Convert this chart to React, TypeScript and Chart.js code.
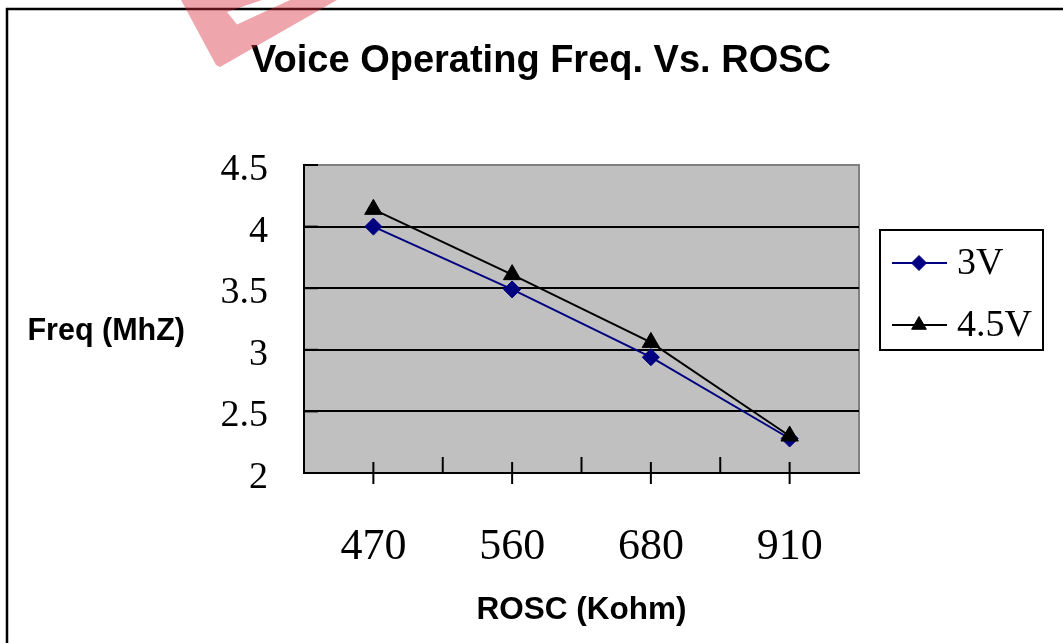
import React, { useEffect, useRef } from "react";
import { Chart, registerables } from "chart.js";

Chart.register(...registerables);

const categories = ["470", "560", "680", "910"];
const series3V = [4.0, 3.49, 2.94, 2.28];
const series45V = [4.14, 3.61, 3.06, 2.3];
const seriesLabels = ["3V", "4.5V"];
const yMin = 2;
const yMax = 4.5;
const yStep = 0.5;
const chartTitle = "Voice Operating Freq. Vs. ROSC";
const xTitle = "ROSC (Kohm)";
const yTitle = "Freq (MhZ)";

const W = 1063;
const H = 643;

function drawMarker(ctx: CanvasRenderingContext2D, style: string, x: number, y: number, r: number, color: string) {
  ctx.save();
  ctx.fillStyle = color;
  ctx.strokeStyle = color;
  ctx.lineWidth = 1;
  ctx.beginPath();
  if (style === "triangle") {
    ctx.moveTo(x, y - r);
    ctx.lineTo(x + 0.866 * r, y + 0.5 * r);
    ctx.lineTo(x - 0.866 * r, y + 0.5 * r);
  } else {
    ctx.moveTo(x, y - r);
    ctx.lineTo(x + r, y);
    ctx.lineTo(x, y + r);
    ctx.lineTo(x - r, y);
  }
  ctx.closePath();
  ctx.fill();
  ctx.stroke();
  ctx.restore();
}

const decorPlugin = {
  id: "decor",
  beforeDraw(chart: any) {
    const { ctx, chartArea: a } = chart;
    ctx.save();
    ctx.fillStyle = "#ffffff";
    ctx.fillRect(0, 0, chart.width, chart.height);
    // outer frame (left and top visible)
    ctx.strokeStyle = "#000";
    ctx.lineWidth = 2.5;
    ctx.beginPath();
    ctx.moveTo(7, chart.height + 5);
    ctx.lineTo(7, 9);
    ctx.lineTo(chart.width + 5, 9);
    ctx.stroke();
    // plot background
    ctx.fillStyle = "#C0C0C0";
    ctx.fillRect(a.left, a.top, a.right - a.left, a.bottom - a.top);
    ctx.strokeStyle = "#808080";
    ctx.lineWidth = 2;
    ctx.beginPath();
    ctx.moveTo(a.left, a.top);
    ctx.lineTo(a.right, a.top);
    ctx.lineTo(a.right, a.bottom);
    ctx.stroke();
    ctx.restore();
  },
  beforeDatasetsDraw(chart: any) {
    const { ctx, chartArea: a } = chart;
    const xs = chart.scales.x;
    const ys = chart.scales.y;
    ctx.save();
    ctx.strokeStyle = "#000";
    ctx.lineWidth = 2;
    const n = categories.length;
    for (let i = 0; i < n; i++) {
      const px = xs.getPixelForValue(i);
      ctx.beginPath();
      ctx.moveTo(px, a.bottom - 11);
      ctx.lineTo(px, a.bottom + 11);
      ctx.stroke();
      if (i < n - 1) {
        const bx = (px + xs.getPixelForValue(i + 1)) / 2;
        ctx.beginPath();
        ctx.moveTo(bx, a.bottom - 16);
        ctx.lineTo(bx, a.bottom);
        ctx.stroke();
      }
    }
    ys.ticks.forEach((t: any) => {
      const py = ys.getPixelForValue(t.value);
      ctx.beginPath();
      ctx.moveTo(a.left, py);
      ctx.lineTo(a.left + 14, py);
      ctx.stroke();
    });
    ctx.restore();
  },
  afterDraw(chart: any) {
    const { ctx, chartArea: a } = chart;
    ctx.save();
    // chart title
    ctx.fillStyle = "#000";
    ctx.font = 'bold 38px "Liberation Sans", Arial, sans-serif';
    ctx.textAlign = "center";
    ctx.textBaseline = "middle";
    ctx.fillText(chartTitle, chart.width / 2 + 9.5, a.top - 103);
    // y axis title (horizontal)
    ctx.font = 'bold 30.5px "Liberation Sans", Arial, sans-serif';
    ctx.textAlign = "right";
    ctx.fillText(yTitle, a.left - 119, (a.top + a.bottom) / 2 + 13);

    // legend
    const bx = a.right + 21;
    const by = a.top + 65;
    const bw = 163;
    const bh = 120;
    ctx.fillStyle = "#fff";
    ctx.fillRect(bx, by, bw, bh);
    ctx.strokeStyle = "#000";
    ctx.lineWidth = 2;
    ctx.strokeRect(bx, by, bw, bh);
    chart.data.datasets.forEach((ds: any, i: number) => {
      const cy = by + 33 + i * 62;
      ctx.strokeStyle = ds.borderColor;
      ctx.lineWidth = ds.borderWidth;
      ctx.beginPath();
      ctx.moveTo(bx + 12, cy);
      ctx.lineTo(bx + 67, cy);
      ctx.stroke();
      drawMarker(ctx, ds.pointStyle, bx + 39, cy, ds.pointStyle === "triangle" ? 8.5 : 7.5, ds.pointBackgroundColor);
      ctx.fillStyle = "#000";
      ctx.font = '38px "Liberation Serif", "Times New Roman", serif';
      ctx.textAlign = "left";
      ctx.textBaseline = "middle";
      ctx.fillText(ds.label, bx + 77, cy + 1);
    });

    // pink watermark fragment
    ctx.fillStyle = "rgba(214, 40, 55, 0.42)";
    ctx.beginPath();
    ctx.moveTo(181, 0);
    ctx.lineTo(337, 0);
    ctx.lineTo(220, 67);
    ctx.lineTo(216, 65);
    ctx.closePath();
    ctx.moveTo(262, 0);
    ctx.lineTo(290, 0);
    ctx.lineTo(237, 24.5);
    ctx.lineTo(227, 12);
    ctx.closePath();
    ctx.fill("evenodd");
    ctx.restore();
  },
};

export default function App() {
  const canvasRef = useRef<HTMLCanvasElement | null>(null);

  useEffect(() => {
    if (!canvasRef.current) return;
    const chart = new Chart(canvasRef.current, {
      type: "line",
      data: {
        labels: categories,
        datasets: [
          {
            label: seriesLabels[0],
            data: series3V,
            borderColor: "#000080",
            backgroundColor: "#000080",
            borderWidth: 2,
            pointStyle: "rectRot",
            pointRadius: 8.5,
            pointHoverRadius: 8.5,
            pointBackgroundColor: "#000080",
            pointBorderColor: "#000080",
            pointBorderWidth: 1,
            tension: 0,
            order: 1,
            clip: false,
          },
          {
            label: seriesLabels[1],
            data: series45V,
            borderColor: "#000000",
            backgroundColor: "#000000",
            borderWidth: 2,
            pointStyle: "triangle",
            pointRadius: 10,
            pointHoverRadius: 10,
            pointBackgroundColor: "#000000",
            pointBorderColor: "#000000",
            pointBorderWidth: 1,
            tension: 0,
            order: 0,
            clip: false,
          },
        ],
      },
      options: {
        responsive: false,
        animation: false,
        devicePixelRatio: 1,
        layout: { padding: { left: 0, top: 165, right: 204, bottom: 0 } },
        plugins: {
          legend: { display: false },
          title: { display: false },
          tooltip: { enabled: false },
        },
        scales: {
          x: {
            type: "category",
            offset: true,
            grid: { display: false, drawTicks: false },
            border: { display: true, color: "#000", width: 2 },
            ticks: {
              color: "#000",
              padding: 48,
              maxRotation: 0,
              autoSkip: false,
              font: { family: '"Liberation Serif", "Times New Roman", serif', size: 44 },
            },
            title: {
              display: true,
              text: xTitle,
              color: "#000",
              font: { family: '"Liberation Sans", Arial, sans-serif', size: 31.5, weight: "bold" },
              padding: { top: 0, bottom: 14 },
            },
            afterFit(scale: any) {
              scale.height = 170;
            },
          },
          y: {
            min: yMin,
            max: yMax,
            grid: {
              drawTicks: false,
              lineWidth: 2,
              color: (c: any) => (c.tick && c.tick.value === yMax ? "rgba(0,0,0,0)" : "#000"),
            },
            border: { display: true, color: "#000", width: 2 },
            ticks: {
              stepSize: yStep,
              color: "#000",
              padding: 36,
              labelOffset: 5,
              font: { family: '"Liberation Serif", "Times New Roman", serif', size: 38 },
              callback: (v: any) => String(Number(v)),
            },
            afterFit(scale: any) {
              scale.width = 304;
            },
          },
        },
      },
      plugins: [decorPlugin],
    });
    return () => chart.destroy();
  }, []);

  return (
    <div style={{ position: "fixed", left: 0, top: 0, width: W, height: H, background: "#fff" }}>
      <canvas ref={canvasRef} width={W} height={H} style={{ width: W, height: H, display: "block" }} />
    </div>
  );
}
